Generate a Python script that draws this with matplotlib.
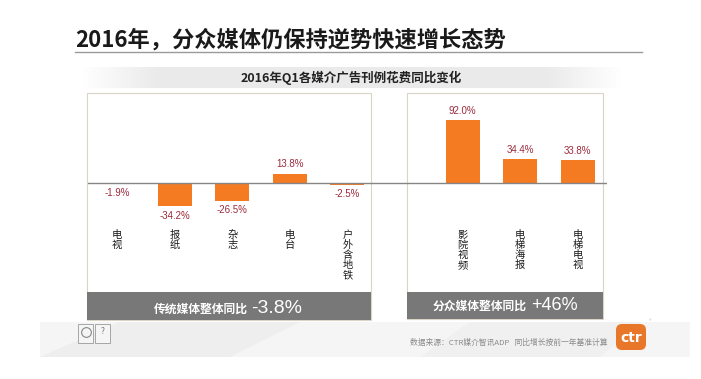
import numpy as np
import matplotlib.pyplot as plt
from matplotlib.patches import Rectangle, FancyBboxPatch, Polygon

plt.rcParams['font.family'] = ['Noto Sans CJK SC', 'DejaVu Sans']

# data
trad_media = ['电视', '报纸', '杂志', '电台', '户外含地铁']
trad_change = [-1.9, -34.2, -26.5, 13.8, -2.5]
fz_media = ['影院视频', '电梯海报', '电梯电视']
fz_change = [92.0, 34.4, 33.8]
trad_total = '-3.8%'
fz_total = '+46%'

W, H = 701, 379
fig = plt.figure(figsize=(W / 100, H / 100), dpi=100)

# background layer in pixel coordinates
bg = fig.add_axes([0, 0, 1, 1])
bg.set_xlim(0, W)
bg.set_ylim(H, 0)
bg.axis('off')

# faint grey shapes at the bottom
bg.add_patch(Polygon([[40, 322], [690, 322], [690, 357], [40, 357]], color='#f5f5f5', lw=0))
bg.add_patch(Polygon([[40, 357], [120, 322], [300, 322], [230, 357]], color='#eeeeee', lw=0))
bg.add_patch(Polygon([[420, 357], [470, 322], [640, 322], [600, 357]], color='#f0f0f0', lw=0))

# title
bg.text(75, 40, '2016年，分众媒体仍保持逆势快速增长态势', fontsize=16, fontweight='bold',
        color='#1a1a1a', va='center', ha='left')
bg.plot([75, 642], [52, 52], color='#9a9a9a', lw=1)

# subtitle band
grad = np.concatenate([np.linspace(0, 1, 40), np.ones(200), np.linspace(1, 0, 40)])
rgba = np.zeros((1, len(grad), 4))
rgba[..., :3] = 0.92
rgba[..., 3] = grad
bg.imshow(rgba, extent=[82, 622, 88, 67], aspect='auto', interpolation='bilinear', zorder=1)
bg.text(351, 78, '2016年Q1各媒介广告刊例花费同比变化', fontsize=9, fontweight='bold',
        color='#222222', ha='center', va='center', zorder=2)

# panels
bg.add_patch(Rectangle((87, 93), 284, 227, facecolor='white', edgecolor='#dad4c8', lw=0.8, zorder=1))
bg.add_patch(Rectangle((407, 93), 196, 226, facecolor='white', edgecolor='#dad4c8', lw=0.8, zorder=1))
bg.add_patch(Rectangle((87, 292), 284, 28, facecolor='#787878', lw=0, zorder=2))
bg.add_patch(Rectangle((407, 292), 196, 27, facecolor='#787878', lw=0, zorder=2))

bg.text(248, 313, '传统媒体整体同比', fontsize=8.5, fontweight='bold', color='white',
        ha='right', va='baseline', zorder=3)
bg.text(251, 313, trad_total, fontsize=14, color='white', family='Liberation Sans',
        ha='left', va='baseline', zorder=3)
bg.text(527, 310, '分众媒体整体同比', fontsize=8.5, fontweight='bold', color='white',
        ha='right', va='baseline', zorder=3)
bg.text(531, 310, fz_total, fontsize=13, color='white', family='Liberation Sans',
        ha='left', va='baseline', zorder=3)

# footer
bg.text(608, 343, '数据来源：CTR媒介智讯ADP   同比增长按前一年基准计算', fontsize=5.6,
        color='#8a8a8a', ha='right', va='center')
bg.add_patch(FancyBboxPatch((616, 324), 30, 26, boxstyle='round,pad=0,rounding_size=6',
                            facecolor='#e8772a', lw=0))
bg.text(631, 338, 'ctr', fontsize=10, fontweight='bold', color='white', family='DejaVu Sans',
        ha='center', va='center')
bg.text(650, 322, '®', fontsize=4, color='#bbbbbb', ha='center', va='center')

# small icons bottom left
bg.add_patch(Rectangle((78, 324), 15, 19, facecolor='#f5f5f5', edgecolor='#999999', lw=0.6))
bg.add_patch(Rectangle((95, 324), 15, 19, facecolor='#f5f5f5', edgecolor='#999999', lw=0.6))
bg.plot(85.5, 332, 'o', ms=7, mfc='none', mec='#888888', mew=0.8)
bg.text(102.5, 331, '?', fontsize=6, color='#777777', ha='center', va='center')

# data axes: 57.6 px per category, 0.685 px per percent, zero line at y=183
step = 57.6
ppp = 0.685
x0 = 117
ylo, yhi = -100, 120
left_px = x0 - 0.5 * step
right_px = x0 + 8.5 * step
top_px = 183 - yhi * ppp
bot_px = 183 - ylo * ppp
ax = fig.add_axes([left_px / W, 1 - bot_px / H, (right_px - left_px) / W, (bot_px - top_px) / H])
ax.set_xlim(-0.5, 8.5)
ax.set_ylim(ylo, yhi)
ax.axis('off')
ax.patch.set_alpha(0)

names = trad_media + fz_media
vals = trad_change + fz_change
pos = list(range(len(trad_media))) + [6 + i for i in range(len(fz_media))]

ax.bar(pos, vals, width=0.59, color='#f47b22', zorder=2)
ax.axhline(0, color='#858585', lw=1, zorder=3)

for x, v, n in zip(pos, vals, names):
    if v >= 0:
        ax.annotate(f'{v:.1f}%', (x, v), xytext=(0, 3), textcoords='offset points',
                    ha='center', va='bottom', fontsize=7, color='#9c2a3c', family='Liberation Sans')
    else:
        ax.annotate(f'{v:.1f}%', (x, v), xytext=(0, -3), textcoords='offset points',
                    ha='center', va='top', fontsize=7, color='#9c2a3c', family='Liberation Sans')
    ax.text(x, -(230 - 183) / ppp, '\n'.join(n), ha='center', va='top', fontsize=7.4,
            linespacing=1.0, color='#1a1a1a')

fig.savefig('out.png', dpi=100)
